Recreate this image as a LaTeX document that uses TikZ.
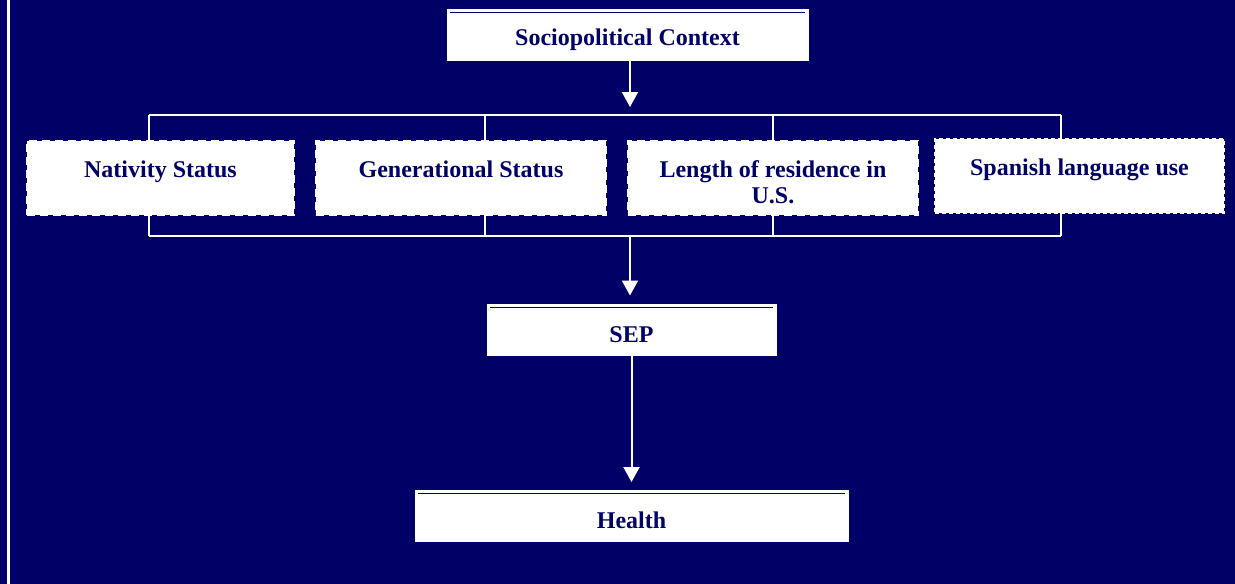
\documentclass[tikz,border=0pt]{standalone}
\usepackage{fontspec}
\setmainfont{Liberation Serif}
\usetikzlibrary{arrows.meta,positioning}
\definecolor{navy}{RGB}{0,0,102}

\begin{document}
\begin{tikzpicture}[x=1pt, y=-1pt, >={Triangle[width=16pt,length=15pt]},
		boxfont/.style={text=navy, font=\fontsize{24}{26}\selectfont\bfseries},
		mainbox/.style={boxfont, draw=white, fill=white, line width=1pt, inner sep=0pt, text height=38pt, text depth=13pt,
			path picture={\draw[navy, line width=0.9pt] ([xshift=3pt,yshift=-3pt]path picture bounding box.north west) -- ([xshift=-3pt,yshift=-3pt]path picture bounding box.north east);}},
		catbox/.style={boxfont, draw=white, fill=white, dash pattern=on 8pt off 5pt, line width=1.8pt, anchor=north,
			inner sep=0pt, text height=37pt, text depth=37pt, align=center},
		link/.style={white, line width=2pt},
		flow/.style={link, ->, shorten >=8pt}]
		% Background and side rule
		\fill[navy] (0,0) rectangle (1235,584);
		\useasboundingbox (0,0) rectangle (1235,584);
		\draw[white, line width=3pt] (8,0) -- (8,584);

		% Bracket joining the four measures
		\foreach \x [count=\i] in {149,485,773,1061} {
			\coordinate (up\i) at (\x,115);
			\coordinate (dn\i) at (\x,236);
		}
		\draw[link] (up1) -- (up4);
		\draw[link] (dn1) -- (dn4);
		\foreach \i in {1,...,4}
			\draw[link] (up\i) -- (dn\i);
		\coordinate (hubT) at (630,115);
		\coordinate (hubB) at (630,236);

		% Main chain
		\node[mainbox, minimum width=361pt, text height=36pt, text depth=15pt] (socio) at (627.5,34.5) {Sociopolitical Context};
		\node[mainbox, minimum width=289pt] (sep) at (631.5,329.5) {SEP};
		\node[mainbox, minimum width=433pt] (health) at (631.5,516) {Health};

		% Measures of acculturation
		\node[catbox, minimum width=267pt] (nat) at (160.5,140) {Nativity Status};
		\node[catbox, minimum width=290pt] (gen) at (461,140) {Generational Status};
		\node[catbox, minimum width=290pt, text height=63pt, text depth=11pt] (len) at (773,140) {Length of residence in\\U.S.};
		\node[catbox, minimum width=289pt, dash pattern=on 4pt off 3pt] (spa) at (1079.5,138) {Spanish language use};

		% Arrows
		\draw[flow] (hubT |- socio.south) -- (hubT);
		\draw[flow] (hubB) -- (hubB |- sep.north);
		\draw[flow] (sep) -- (health);
	\end{tikzpicture}
\end{document}
